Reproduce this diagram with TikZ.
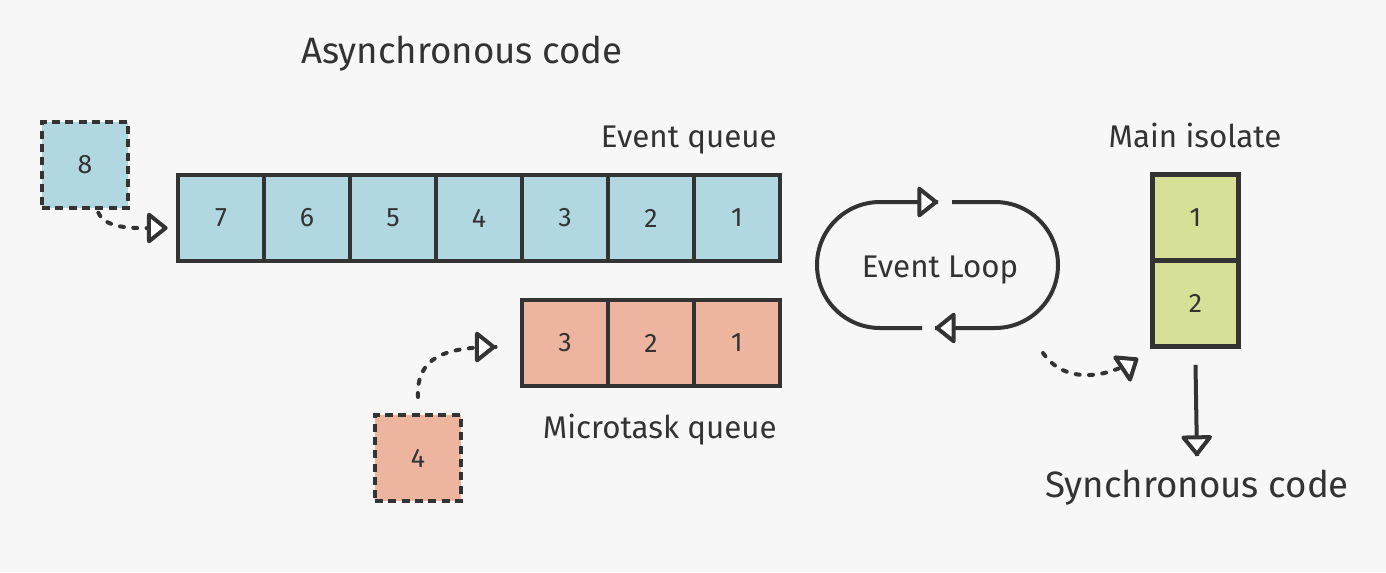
\documentclass[tikz,border=0pt]{standalone}
\usepackage{fontspec}
\setmainfont{Fira Sans}
\usetikzlibrary{decorations.markings}
\definecolor{bg}{HTML}{F7F7F7}
\definecolor{ink}{HTML}{333333}
\definecolor{qblue}{HTML}{B1D8E0}
\definecolor{qsalmon}{HTML}{EDB49F}
\definecolor{qgreen}{HTML}{D8DF96}
\tikzset{
  cell/.style={draw=ink, line width=3.5pt, minimum width=64.5pt, minimum height=64.5pt, inner sep=0pt, font=\fontsize{20}{24}\selectfont, text=ink},
  dashcell/.style={cell, line width=3pt, dash pattern=on 6pt off 4pt},
  lbl/.style={font=\fontsize{23.5}{28}\selectfont, text=ink, inner sep=0pt},
  big/.style={font=\fontsize{27.5}{32}\selectfont, text=ink, inner sep=0pt},
  otip/.style={postaction={decorate}, decoration={markings, mark=at position 0.9999 with {\draw[solid, fill=white, draw=ink, line join=round, line width=3pt] (-1.5pt,0pt) -- (-14pt,10pt) -- (-14pt,-10pt) -- cycle;}}},
  conn/.style={draw=ink, line width=3pt, otip},
  dconn/.style={conn, dash pattern=on 3pt off 7pt, line cap=round},
}
\begin{document}
\begin{tikzpicture}[x=0.75pt,y=0.75pt]
\fill[bg] (0,0) rectangle (1386,-572);
\useasboundingbox (0,0) rectangle (1386,-572);

\node[big, anchor=base] (async) at (462,-63) {Asynchronous code};

% event queue
\node[lbl, anchor=base east] (eql) at (777,-147) {Event queue};
\foreach \i/\x in {7/221,6/307,5/393,4/479,3/565,2/651,1/737}{
  \node[cell, fill=qblue] (e\i) at (\x,-218) {\i};
}
\node[dashcell, fill=qblue] (b8) at (85,-165) {8};

% microtask queue
\foreach \i/\x in {3/565,2/651,1/737}{
  \node[cell, fill=qsalmon] (m\i) at (\x,-343) {\i};
}
\node[lbl, anchor=base east] (mql) at (777,-438) {Microtask queue};
\node[dashcell, fill=qsalmon] (b4) at (418,-458) {4};

% main isolate
\node[lbl, anchor=base] (mil) at (1195,-147) {Main isolate};
\node[cell, fill=qgreen] (i1) at (1195.5,-217.5) {1};
\node[cell, fill=qgreen] (i2) at (1195.5,-303.5) {2};
\node[big, anchor=base] (sync) at (1197,-497) {Synchronous code};

% event loop
\node[lbl, anchor=base] (loop) at (940,-277) {Event Loop};
\draw[conn] (922,-328) -- (880,-328) arc[start angle=270, end angle=90, radius=63] -- (938,-202);
\draw[conn] (952,-202) -- (995,-202) arc[start angle=90, end angle=-90, radius=63] -- (935,-328);

% connectors
\coordinate (st) at (1197,-456);
\coordinate (ls) at (1043,-353);
\draw[dconn] ([xshift=10pt,yshift=-2pt]b8.south) .. controls +(8,-18) and +(-30,0) .. ([xshift=-6pt,yshift=-7.5pt]e7.west);
\draw[dconn] ([yshift=12pt]b4.north) .. controls +(-2,40) and +(-50,0) .. ([xshift=-18pt,yshift=-3pt]m3.west);
\draw[dconn] (ls) .. controls +(22,-32) and +(-30,-20) .. ([xshift=-9pt,yshift=-7pt]i2.south west);
\draw[conn] ([yshift=-12pt]i2.south) -- (st);
\end{tikzpicture}
\end{document}
